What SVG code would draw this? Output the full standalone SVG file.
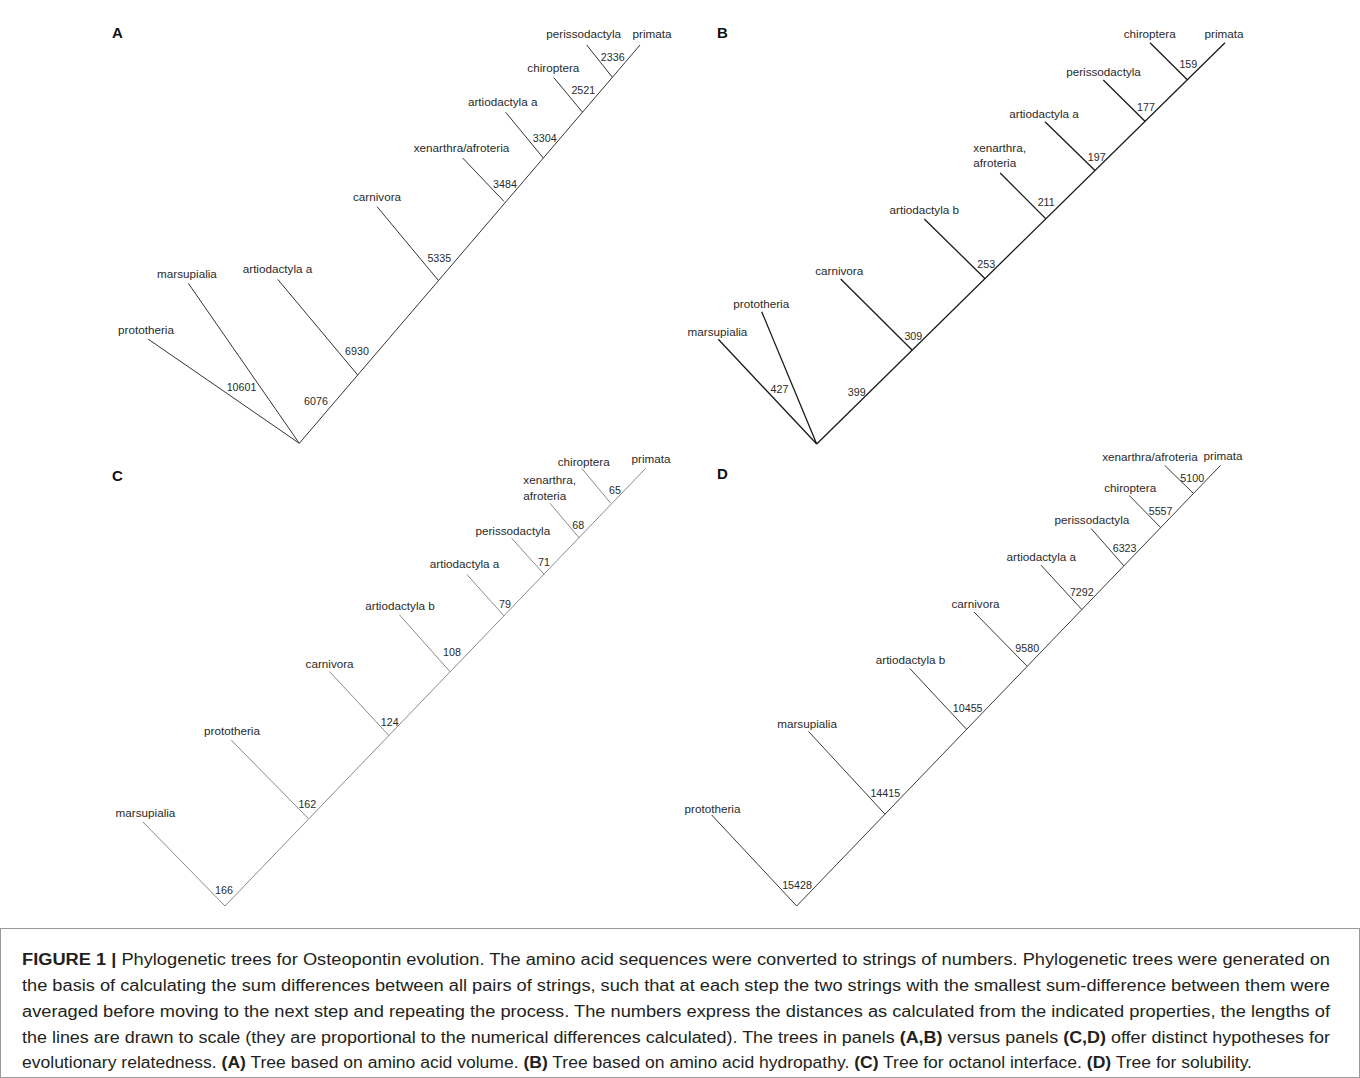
<svg xmlns="http://www.w3.org/2000/svg" width="1360" height="1078" viewBox="0 0 1360 1078">
<style>
.lbl{font-family:"Liberation Sans",Arial,sans-serif;font-size:11.7px;fill:#2a2a2a;text-anchor:middle}
.lbs{font-family:"Liberation Sans",Arial,sans-serif;font-size:11.7px;fill:#2a2a2a;text-anchor:start}
.num{font-family:"Liberation Sans",Arial,sans-serif;font-size:10.7px;fill:#2a2a2a;text-anchor:middle}
.pl{font-family:"Liberation Sans",Arial,sans-serif;font-size:15px;font-weight:bold;fill:#111}
.cap{font-family:"Liberation Sans",Arial,sans-serif;font-size:16px;fill:#231f20}
.b{font-weight:bold}
.eA{stroke:#333;stroke-width:1;fill:none}
.eB{stroke:#1a1a1a;stroke-width:1.3;fill:none}
.eC{stroke:#8a8a8a;stroke-width:1;fill:none}
.eD{stroke:#3a3a3a;stroke-width:1;fill:none}
</style>
<rect x="0" y="0" width="1360" height="1078" fill="#fff"/>

<!-- Panel A -->
<g id="panelA">
<text class="pl" x="112" y="38">A</text>
<g id="A-connectors">
<line class="eA" x1="299.3" y1="443.3" x2="640" y2="45"/>
<line class="eA" x1="148" y1="339" x2="299.3" y2="443.3"/>
<line class="eA" x1="188.3" y1="283.3" x2="299.3" y2="443.3"/>
<line class="eA" x1="277.7" y1="279.3" x2="357.7" y2="375"/>
<line class="eA" x1="377" y1="206.6" x2="438.5" y2="280.6"/>
<line class="eA" x1="462.7" y1="158" x2="504" y2="201.4"/>
<line class="eA" x1="505.7" y1="112.3" x2="543.3" y2="158"/>
<line class="eA" x1="553.8" y1="77.6" x2="582.5" y2="112.2"/>
<line class="eA" x1="586.7" y1="45" x2="612.3" y2="77.2"/>
<text class="num" x="241.5" y="391">10601</text>
<text class="num" x="316" y="405">6076</text>
<text class="num" x="357" y="355">6930</text>
<text class="num" x="439.3" y="261.5">5335</text>
<text class="num" x="505" y="188">3484</text>
<text class="num" x="544.7" y="141.5">3304</text>
<text class="num" x="583.3" y="93.5">2521</text>
<text class="num" x="612.7" y="61">2336</text>
</g>
<g id="A-prototheria"><text class="lbl" x="146" y="334">prototheria</text></g>
<g id="A-marsupialia"><text class="lbl" x="187" y="277.5">marsupialia</text></g>
<g id="A-artiodactyla-a1"><text class="lbl" x="277.5" y="273">artiodactyla a</text></g>
<g id="A-carnivora"><text class="lbl" x="377" y="200.8">carnivora</text></g>
<g id="A-xenarthra"><text class="lbl" x="461.5" y="151.5">xenarthra/afroteria</text></g>
<g id="A-artiodactyla-a2"><text class="lbl" x="502.7" y="106.3">artiodactyla a</text></g>
<g id="A-chiroptera"><text class="lbl" x="553.3" y="72.3">chiroptera</text></g>
<g id="A-perissodactyla"><text class="lbl" x="583.7" y="37.5">perissodactyla</text></g>
<g id="A-primata"><text class="lbl" x="652" y="37.5">primata</text></g>
</g>

<!-- Panel B -->
<g id="panelB">
<text class="pl" x="717" y="38">B</text>
<g id="B-connectors">
<line class="eB" x1="816.7" y1="444" x2="1225" y2="42.7"/>
<line class="eB" x1="718.3" y1="339.3" x2="816.7" y2="444"/>
<line class="eB" x1="761.7" y1="311.7" x2="816.7" y2="444"/>
<line class="eB" x1="840.7" y1="279" x2="912.3" y2="350.3"/>
<line class="eB" x1="924.3" y1="219" x2="985.1" y2="278.7"/>
<line class="eB" x1="1000.2" y1="173" x2="1045.9" y2="218.9"/>
<line class="eB" x1="1045" y1="121.7" x2="1095" y2="170.5"/>
<line class="eB" x1="1103.3" y1="80" x2="1145" y2="121.3"/>
<line class="eB" x1="1150" y1="42.7" x2="1187.3" y2="79.7"/>
<text class="num" x="779.5" y="393.3">427</text>
<text class="num" x="856.7" y="395.7">399</text>
<text class="num" x="913.3" y="340">309</text>
<text class="num" x="986.2" y="268">253</text>
<text class="num" x="1046.2" y="206.3">211</text>
<text class="num" x="1096.7" y="160.7">197</text>
<text class="num" x="1146" y="111.3">177</text>
<text class="num" x="1188.3" y="68.3">159</text>
</g>
<g id="B-marsupialia"><text class="lbl" x="717.5" y="335.7">marsupialia</text></g>
<g id="B-prototheria"><text class="lbl" x="761.3" y="308">prototheria</text></g>
<g id="B-carnivora"><text class="lbl" x="839.2" y="274.7">carnivora</text></g>
<g id="B-artiodactyla-b"><text class="lbl" x="924.3" y="214">artiodactyla b</text></g>
<g id="B-xenarthra"><text class="lbs" x="973.3" y="152">xenarthra,</text><text class="lbs" x="973.3" y="167">afroteria</text></g>
<g id="B-artiodactyla-a"><text class="lbl" x="1044" y="118">artiodactyla a</text></g>
<g id="B-perissodactyla"><text class="lbl" x="1103.5" y="75.7">perissodactyla</text></g>
<g id="B-chiroptera"><text class="lbl" x="1149.7" y="38">chiroptera</text></g>
<g id="B-primata"><text class="lbl" x="1224" y="38">primata</text></g>
</g>

<!-- Panel C -->
<g id="panelC">
<text class="pl" x="112" y="481">C</text>
<g id="C-connectors">
<line class="eC" x1="225" y1="906" x2="645.7" y2="468.3"/>
<line class="eC" x1="142.7" y1="821.7" x2="225" y2="906"/>
<line class="eC" x1="231.3" y1="740.2" x2="308.3" y2="818.5"/>
<line class="eC" x1="329.6" y1="671.6" x2="388.9" y2="735.5"/>
<line class="eC" x1="399.3" y1="614.6" x2="450.1" y2="671.8"/>
<line class="eC" x1="466.8" y1="574.4" x2="503.9" y2="615.8"/>
<line class="eC" x1="511.7" y1="538.3" x2="544" y2="574.1"/>
<line class="eC" x1="550" y1="503.3" x2="579" y2="537.7"/>
<line class="eC" x1="581.7" y1="468.3" x2="610.7" y2="503.2"/>
<text class="num" x="224" y="894">166</text>
<text class="num" x="307.3" y="808">162</text>
<text class="num" x="389.7" y="725.8">124</text>
<text class="num" x="452" y="656">108</text>
<text class="num" x="505" y="607.5">79</text>
<text class="num" x="544" y="565.7">71</text>
<text class="num" x="578.3" y="529">68</text>
<text class="num" x="615" y="494">65</text>
</g>
<g id="C-marsupialia"><text class="lbl" x="145.5" y="817.3">marsupialia</text></g>
<g id="C-prototheria"><text class="lbl" x="232" y="734.8">prototheria</text></g>
<g id="C-carnivora"><text class="lbl" x="329.6" y="668.2">carnivora</text></g>
<g id="C-artiodactyla-b"><text class="lbl" x="400" y="610.3">artiodactyla b</text></g>
<g id="C-artiodactyla-a"><text class="lbl" x="464.6" y="567.7">artiodactyla a</text></g>
<g id="C-perissodactyla"><text class="lbl" x="512.8" y="535">perissodactyla</text></g>
<g id="C-xenarthra"><text class="lbs" x="523.3" y="484">xenarthra,</text><text class="lbs" x="523.3" y="499.7">afroteria</text></g>
<g id="C-chiroptera"><text class="lbl" x="583.7" y="465.7">chiroptera</text></g>
<g id="C-primata"><text class="lbl" x="651" y="463.3">primata</text></g>
</g>

<!-- Panel D -->
<g id="panelD">
<text class="pl" x="717" y="479">D</text>
<g id="D-connectors">
<line class="eD" x1="796.7" y1="906" x2="1220.5" y2="465.4"/>
<line class="eD" x1="711.7" y1="815" x2="796.7" y2="906"/>
<line class="eD" x1="808.6" y1="731.5" x2="885" y2="814.2"/>
<line class="eD" x1="909.7" y1="668.4" x2="966.6" y2="729.3"/>
<line class="eD" x1="974" y1="612" x2="1027.2" y2="666.3"/>
<line class="eD" x1="1040.9" y1="565.1" x2="1081.8" y2="609.5"/>
<line class="eD" x1="1091.1" y1="528.5" x2="1123.8" y2="565.8"/>
<line class="eD" x1="1129.4" y1="495.6" x2="1160.6" y2="527.5"/>
<line class="eD" x1="1164.7" y1="465.4" x2="1193.4" y2="493.4"/>
<text class="num" x="797" y="889">15428</text>
<text class="num" x="885.3" y="797.3">14415</text>
<text class="num" x="967.7" y="712">10455</text>
<text class="num" x="1027.2" y="652.3">9580</text>
<text class="num" x="1081.8" y="595.9">7292</text>
<text class="num" x="1124.6" y="551.6">6323</text>
<text class="num" x="1160.6" y="514.7">5557</text>
<text class="num" x="1192.2" y="481.8">5100</text>
</g>
<g id="D-prototheria"><text class="lbl" x="712.5" y="813.3">prototheria</text></g>
<g id="D-marsupialia"><text class="lbl" x="807.1" y="727.8">marsupialia</text></g>
<g id="D-artiodactyla-b"><text class="lbl" x="910.5" y="664.4">artiodactyla b</text></g>
<g id="D-carnivora"><text class="lbl" x="975.5" y="608">carnivora</text></g>
<g id="D-artiodactyla-a"><text class="lbl" x="1041.3" y="561">artiodactyla a</text></g>
<g id="D-perissodactyla"><text class="lbl" x="1091.9" y="524.1">perissodactyla</text></g>
<g id="D-chiroptera"><text class="lbl" x="1130.2" y="491.9">chiroptera</text></g>
<g id="D-xenarthra"><text class="lbl" x="1149.9" y="461">xenarthra/afroteria</text></g>
<g id="D-primata"><text class="lbl" x="1223.1" y="460.3">primata</text></g>
</g>

<!-- Caption -->
<g id="caption">
<rect x="0.5" y="928.5" width="1359" height="149" fill="none" stroke="#9a9a9a" stroke-width="1"/>
<text class="cap" x="22" y="965" textLength="1308" lengthAdjust="spacingAndGlyphs"><tspan class="b">FIGURE 1 |</tspan> Phylogenetic trees for Osteopontin evolution. The amino acid sequences were converted to strings of numbers. Phylogenetic trees were generated on</text>
<text class="cap" x="22" y="991" textLength="1308" lengthAdjust="spacingAndGlyphs">the basis of calculating the sum differences between all pairs of strings, such that at each step the two strings with the smallest sum-difference between them were</text>
<text class="cap" x="22" y="1017" textLength="1308" lengthAdjust="spacingAndGlyphs">averaged before moving to the next step and repeating the process. The numbers express the distances as calculated from the indicated properties, the lengths of</text>
<text class="cap" x="22" y="1043" textLength="1308" lengthAdjust="spacingAndGlyphs">the lines are drawn to scale (they are proportional to the numerical differences calculated). The trees in panels <tspan class="b">(A,B)</tspan> versus panels <tspan class="b">(C,D)</tspan> offer distinct hypotheses for</text>
<text class="cap" x="22" y="1068" textLength="1230" lengthAdjust="spacingAndGlyphs">evolutionary relatedness. <tspan class="b">(A)</tspan> Tree based on amino acid volume. <tspan class="b">(B)</tspan> Tree based on amino acid hydropathy. <tspan class="b">(C)</tspan> Tree for octanol interface. <tspan class="b">(D)</tspan> Tree for solubility.</text>
</g>
</svg>
